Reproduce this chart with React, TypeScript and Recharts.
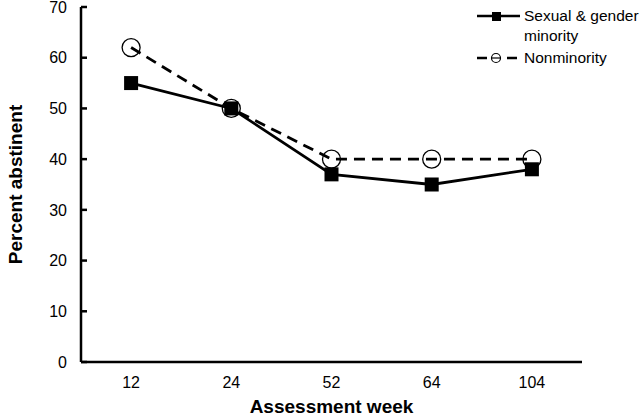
import React from 'react';
import { LineChart, Line, XAxis, YAxis } from 'recharts';

const weeks = ['12', '24', '52', '64', '104'];
const minority = [55, 50, 37, 35, 38];
const nonminority = [62, 50, 40, 40, 40];
const yTicks = [0, 10, 20, 30, 40, 50, 60, 70];
const edgeTicks = [0, 1, 2, 3, 4, 5];

const data = weeks.map((week, i) => ({
  week,
  minority: minority[i],
  nonminority: nonminority[i],
  pos: i + 0.5,
}));

const FONT = '"Liberation Sans", Arial, sans-serif';

const SquareDot = (props: any) => {
  const { cx, cy } = props;
  if (cx == null || cy == null) return null;
  return <rect x={cx - 7} y={cy - 7} width={14} height={14} fill="#000" />;
};

const CircleDot = (props: any) => {
  const { cx, cy } = props;
  if (cx == null || cy == null) return null;
  return <circle cx={cx} cy={cy} r={9} fill="none" stroke="#000" strokeWidth={1.3} />;
};

const ChartLegend = () => (
  <svg width={170} height={70} style={{ position: 'absolute', left: 473, top: 0 }}>
    <line x1={4} y1={16} x2={47} y2={16} stroke="#000" strokeWidth={2.5} />
    <rect x={19} y={12} width={9} height={9} fill="#000" />
    <text x={51} y={21} fontSize={15.5} fontFamily={FONT}>Sexual &amp; gender</text>
    <text x={51} y={41} fontSize={15.5} fontFamily={FONT}>minority</text>
    <line x1={4} y1={58} x2={47} y2={58} stroke="#000" strokeWidth={2.5} strokeDasharray="10 20" />
    <circle cx={23} cy={58} r={4.5} fill="none" stroke="#000" strokeWidth={1.2} />
    <line x1={19} y1={58} x2={28} y2={58} stroke="#000" strokeWidth={1.2} />
    <text x={51} y={63} fontSize={15.5} fontFamily={FONT}>Nonminority</text>
  </svg>
);

export default function App() {
  return (
    <div style={{ position: 'absolute', left: 0, top: 0, width: 640, height: 416, background: '#fff' }}>
      <LineChart width={640} height={416} data={data} margin={{ top: 7, right: 58, left: 0, bottom: 0 }}>
        <XAxis
          xAxisId="a_edges"
          dataKey="pos"
          type="number"
          domain={[0, 5]}
          ticks={edgeTicks}
          tick={false}
          height={1}
          tickSize={5}
          axisLine={{ stroke: '#000', strokeWidth: 2.5 }}
          tickLine={{ stroke: '#000', strokeWidth: 2.5 }}
        />
        <XAxis
          xAxisId="b_weeks"
          dataKey="week"
          type="category"
          scale="band"
          height={53}
          axisLine={false}
          tickLine={false}
          tickMargin={8}
          tick={{ fill: '#000', fontSize: 16, fontFamily: FONT }}
          label={{
            value: 'Assessment week',
            position: 'insideBottom',
            offset: 3,
            style: { fill: '#000', fontSize: 19, fontWeight: 'bold', fontFamily: FONT },
          }}
        />
        <YAxis
          domain={[0, 70]}
          ticks={yTicks}
          width={81}
          interval={0}
          tickSize={-6}
          tickMargin={20}
          axisLine={{ stroke: '#000', strokeWidth: 2.5 }}
          tickLine={{ stroke: '#000', strokeWidth: 2.5 }}
          tick={{ fill: '#000', fontSize: 16, fontFamily: FONT }}
          label={{
            value: 'Percent abstinent',
            angle: -90,
            position: 'insideLeft',
            offset: 15,
            style: { textAnchor: 'middle', fill: '#000', fontSize: 19, fontWeight: 'bold', fontFamily: FONT },
          }}
        />
        <Line
          xAxisId="b_weeks"
          dataKey="nonminority"
          stroke="#000"
          strokeWidth={2.8}
          strokeDasharray="11 7"
          dot={<CircleDot />}
          activeDot={false}
          isAnimationActive={false}
        />
        <Line
          xAxisId="b_weeks"
          dataKey="minority"
          stroke="#000"
          strokeWidth={2.8}
          dot={<SquareDot />}
          activeDot={false}
          isAnimationActive={false}
        />
      </LineChart>
      <ChartLegend />
    </div>
  );
}
